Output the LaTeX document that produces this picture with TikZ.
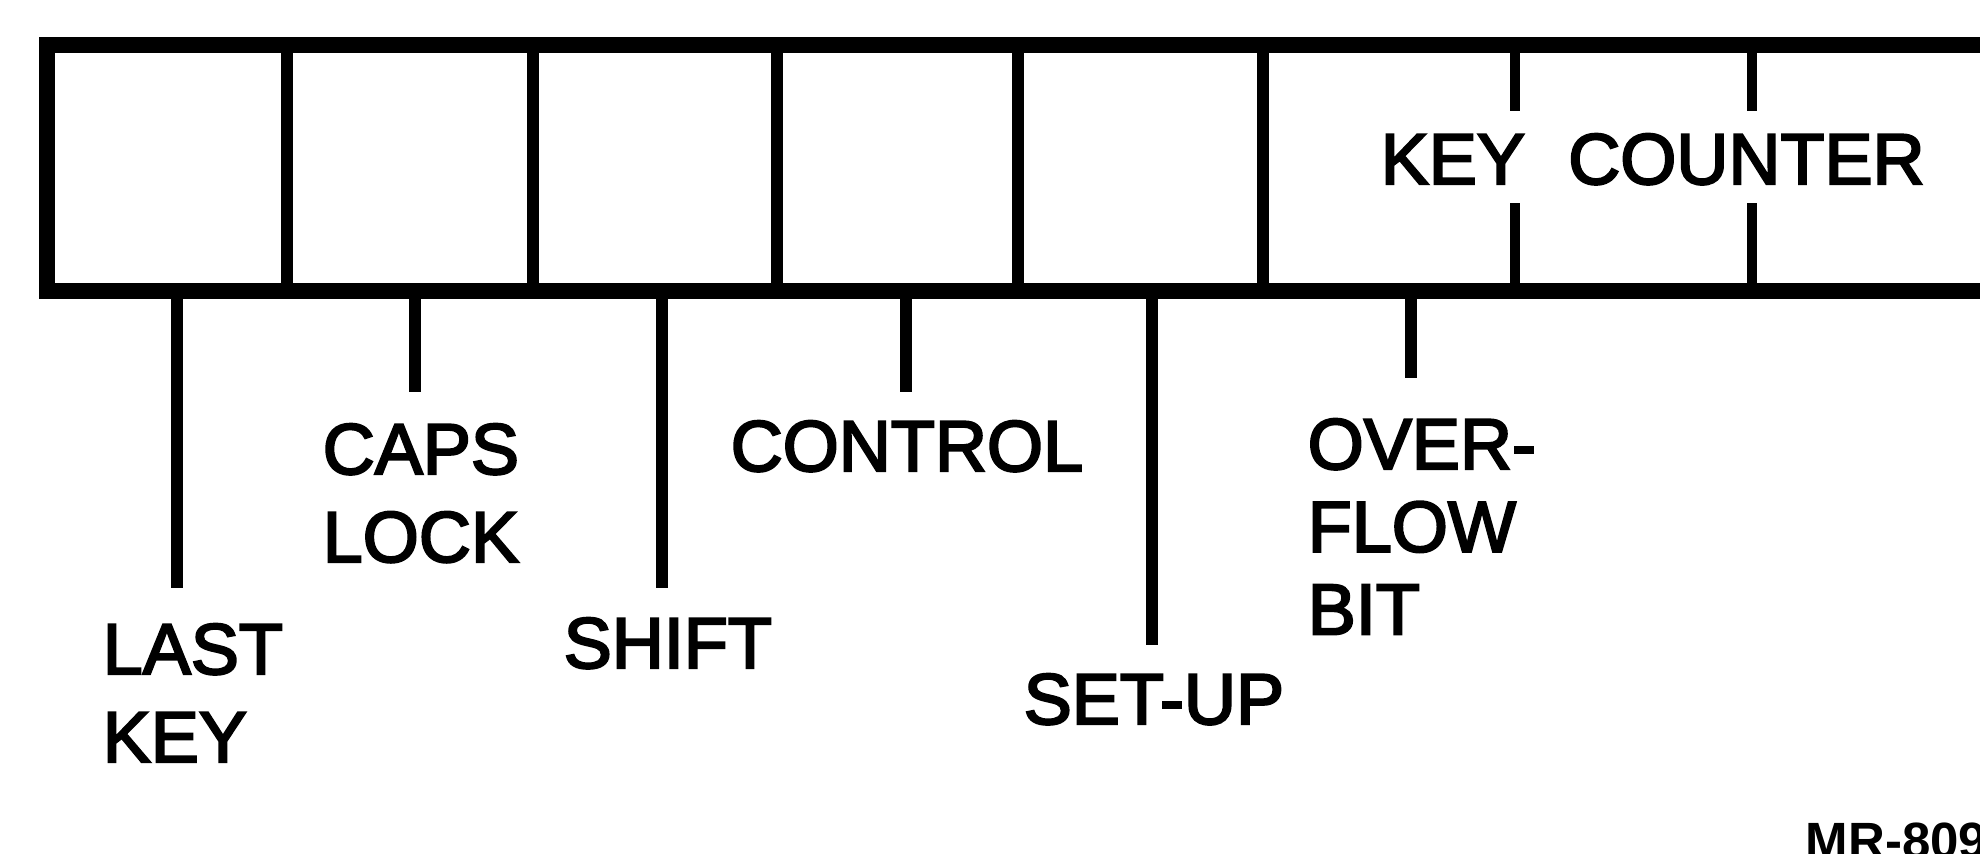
\documentclass[tikz,border=0pt]{standalone}
\usepackage{fontspec}
\setmainfont{Liberation Sans}
\newfontfamily\rotulofonte[FakeBold=3]{Liberation Sans}
\usepackage{tikz}
\usetikzlibrary{positioning, calc}
\definecolor{tinta}{HTML}{000000}

\begin{document}
\begin{tikzpicture}[x=0.01cm, y=-0.01cm,
    celula/.style={draw=tinta, line width=3.2pt, minimum height=2.46cm,
                   inner sep=0pt, outer sep=0pt},
    moldura/.style={draw=tinta, line width=4.4pt},
    haste/.style={draw=tinta, line width=3.4pt},
    rotulo/.style={anchor=north west, inner sep=0pt, align=left, text=tinta,
                   font=\rotulofonte\fontsize{20.5}{25}\selectfont},
    codigo/.style={anchor=north west, inner sep=0pt, text=tinta,
                   font=\bfseries\fontsize{14.5}{16}\selectfont}
]
    \useasboundingbox (0,0) rectangle (1980,853);
    \clip (0,0) rectangle (1980,853);

    % register cells
    \node[celula, minimum width=2.40cm] (lastkey) at (167,168) {};
    \node[celula, minimum width=2.46cm] (capslock) at (410,168) {};
    \node[celula, minimum width=2.44cm] (shift) at (655,168) {};
    \node[celula, minimum width=2.41cm] (control) at (897.5,168) {};
    \node[celula, minimum width=2.45cm] (setup) at (1140.5,168) {};
    \node[celula, minimum width=7.67cm] (counter) at (1646.5,168) {};
    \draw[moldura] (lastkey.north west) rectangle (counter.south east);
    \foreach \tx in {1515,1752} {
        \draw[haste, line width=2.8pt] (\tx,45) -- (\tx,111);
        \draw[haste, line width=2.8pt] (\tx,203) -- (\tx,291);
    }
    \node[rotulo] (counterlbl) at (1380,133) {KEY\hspace{0.6em}COUNTER};

    % labels
    \node[rotulo] (lastkeylbl) at (102,623) {LAST\\KEY};
    \node[rotulo] (capslocklbl) at (322,423) {CAPS\\LOCK};
    \node[rotulo] (shiftlbl) at (563,617) {SHIFT};
    \node[rotulo] (controllbl) at (730,420) {CONTROL};
    \node[rotulo] (setuplbl) at (1023,673) {SET-UP};
    \node[rotulo, font=\rotulofonte\fontsize{20.5}{23.5}\selectfont] (overflowlbl) at (1307,418) {OVER-\\FLOW\\BIT};
    \node[codigo] (figcode) at (1805,822) {MR-809};

    % stubs
    \coordinate (lastkey-end) at (177,588);
    \coordinate (capslock-end) at (415,392);
    \coordinate (shift-end) at (662,588);
    \coordinate (control-end) at (906,392);
    \coordinate (setup-end) at (1152,645);
    \coordinate (overflow-end) at (1411,378);
    \draw[haste] (lastkey-end |- lastkey.south) -- (lastkey-end);
    \draw[haste] (capslock-end |- capslock.south) -- (capslock-end);
    \draw[haste] (shift-end |- shift.south) -- (shift-end);
    \draw[haste] (control-end |- control.south) -- (control-end);
    \draw[haste] (setup-end |- setup.south) -- (setup-end);
    \draw[haste] (overflow-end |- counter.south) -- (overflow-end);
\end{tikzpicture}
\end{document}
